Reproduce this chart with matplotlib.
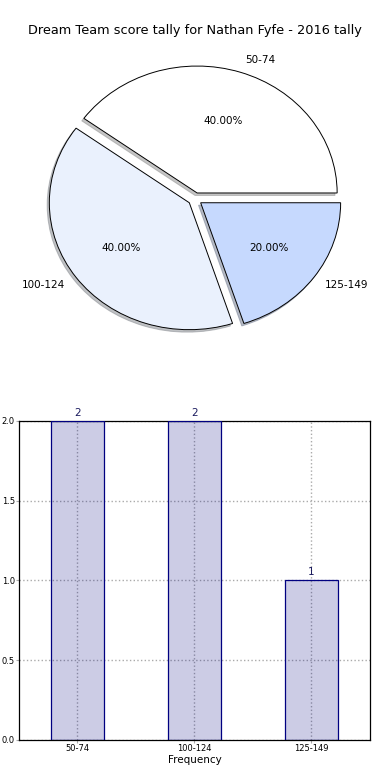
import matplotlib
matplotlib.use("Agg")
from matplotlib import pyplot as plt
import numpy as np

# data
title = "Dream Team score tally for Nathan Fyfe - 2016 tally"
ranges = ["50-74", "100-124", "125-149"]
counts = [2, 2, 1]
pie_colors = ["#ffffff", "#eaf1fd", "#c6d9fe"]
explode = [0.05, 0.05, 0.05]

fig = plt.figure(figsize=(3.9, 7.8), dpi=100)

# pie on top (not forced round, like old matplotlib)
ax1 = fig.add_axes([0.0333, 0.5333, 0.9333, 0.4231])
ax1.pie(counts, labels=ranges, colors=pie_colors, explode=explode,
        autopct="%.2f%%", shadow={"ox": -0.011, "oy": -0.014, "shade": 0.45},
        startangle=0,
        wedgeprops={"edgecolor": "black", "linewidth": 0.7},
        textprops={"fontsize": 7.5})
ax1.set_aspect("auto")
ax1.set_xlim(-1.3, 1.3)
ax1.set_ylim(-1.3, 1.3)
ax1.axis("off")
fig.text(0.5, 0.961, title, ha="center", va="center", fontsize=9.3)

# bar chart underneath
ax2 = fig.add_axes([0.0487, 0.0513, 0.9, 0.4090])
x = np.arange(len(ranges))
ax2.bar(x, counts, width=0.45, color="navy", alpha=0.2,
        edgecolor="none", zorder=2)
ax2.bar(x, counts, width=0.45, color="none", edgecolor="navy",
        linewidth=0.9, zorder=3)
for xi, c in zip(x, counts):
  ax2.text(xi, c + 0.02, str(c), ha="center", va="bottom",
           fontsize=7.5, color="#1a1a5e")
ax2.set_xlim(-0.5, 2.5)
ax2.set_ylim(0, 2.0)
ax2.set_xticks(x)
ax2.set_xticklabels(ranges)
ax2.set_yticks([0.0, 0.5, 1.0, 1.5, 2.0])
ax2.set_yticklabels(["0.0", "0.5", "1.0", "1.5", "2.0"])
ax2.tick_params(labelsize=6, length=2, width=0.8, color="#aaaaaa", pad=1)
ax2.grid(True, linestyle=":", color="#aaaaaa", linewidth=1.0, zorder=1)
ax2.set_xlabel("Frequency", fontsize=7.5, labelpad=1)
for s in ax2.spines.values():
  s.set_linewidth(0.9)

fig.savefig("out.png", dpi=100)
